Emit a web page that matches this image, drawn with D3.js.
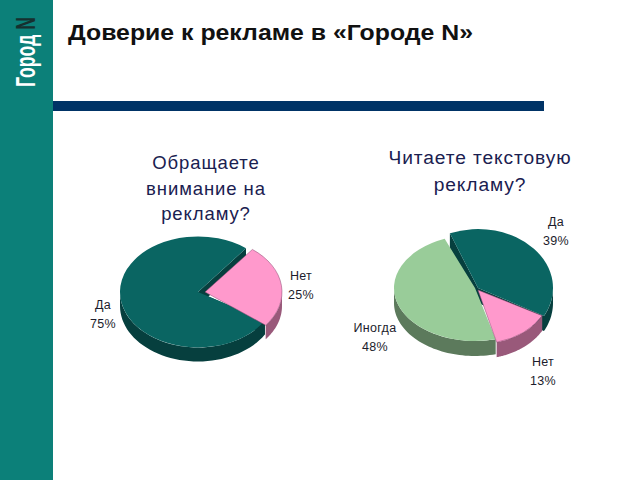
<!DOCTYPE html>
<html><head><meta charset="utf-8">
<script src="https://cdn.jsdelivr.net/npm/d3@7"></script>
<style>html,body{margin:0;padding:0;background:#fff}svg{display:block}text{font-family:"Liberation Sans",Arial,sans-serif}</style>
</head><body><svg id="c" width="640" height="480"></svg>
<script>
const mainTitle = "Доверие к рекламе в «Городе N»";
const brandWord = "Город", brandLetter = "N";
const leftTitle = ["Обращаете","внимание на","рекламу?"];
const leftCats = ["Да","Нет"];
const leftVals = [75,25];
const rightTitle = ["Читаете текстовую","рекламу?"];
const rightCats = ["Да","Нет","Иногда"];
const rightVals = [39,13,48];
const fills = {"Да":"#0a6562","Нет":"#ff99cc","Иногда":"#99cc99"};
const walls = {"Да":"#063f3e","Нет":"#99597a","Иногда":"#5c7a5c"};

const svg = d3.select("#c");
svg.append("rect").attr("x",0).attr("y",0).attr("width",53).attr("height",480).attr("fill","#0c8079");
svg.append("rect").attr("x",53).attr("y",101).attr("width",491).attr("height",10).attr("fill","#003366");
svg.append("text").attr("x",68).attr("y",40).attr("font-size",22.5).attr("font-weight","bold").attr("fill","#111").attr("textLength",405).attr("lengthAdjust","spacingAndGlyphs").text(mainTitle);
const brand = svg.append("text").attr("font-size",28).attr("font-weight","bold");
brand.append("tspan").attr("fill","#fff").text(brandWord+" ");
brand.append("tspan").attr("fill","#16302f").text(brandLetter);
brand.attr("transform",`translate(35,87) rotate(-90) scale(${70/brand.node().getComputedTextLength()},1)`);

function titleLines(lines,cx,y0,dy,size){
  lines.forEach((t,i)=>svg.append("text").attr("x",cx).attr("y",y0+i*dy).attr("text-anchor","middle")
    .attr("font-size",size).attr("fill","#1a2050").attr("letter-spacing",0.9).text(t));
}
function label(cat,val,x,y){
  const g=svg.append("g").attr("font-size",12.5).attr("fill","#1c1c2c").attr("text-anchor","middle").attr("letter-spacing",0.3);
  g.append("text").attr("x",x).attr("y",y).text(cat);
  g.append("text").attr("x",x).attr("y",y+19).text(val+"%");
}
function pie3d(cats,vals,opt){
  const arcs=d3.pie().sort(null).startAngle(opt.start).endAngle(opt.start+2*Math.PI)(vals);
  const line=d3.line();
  opt.order.forEach(i=>{
    const d=arcs[i], cat=cats[i], f=opt.faces[i], r=f.r, k=f.ry/f.r, dp=opt.depth;
    const a0=d.startAngle-(f.padStart||0), a1=d.endAngle;
    const pt=a=>[f.x+r*Math.sin(a), f.y-f.ry*Math.cos(a)];
    const g=svg.append("g"), w=walls[cat];
    if(f.cuts){
      [a0,a1].forEach(a=>{
        const p=pt(a);
        g.append("path").attr("fill",w).attr("d",line([[f.x,f.y],p,[p[0],p[1]+dp],[f.x,f.y+dp]])+"Z");
      });
    }
    const n=80, outer=d3.range(n+1).map(j=>a0+(a1-a0)*j/n)
      .filter(a=>Math.cos(a)<=0.02).map(pt);
    if(outer.length>1){
      const low=outer.map(p=>[p[0],p[1]+dp]).reverse();
      g.append("path").attr("fill",w).attr("d",line(outer.concat(low))+"Z");
    }
    g.append("path")
      .attr("transform",`translate(${f.x},${f.y}) scale(1,${k})`)
      .attr("fill",fills[cat])
      .attr("stroke",cat==="Нет"?"#8a4a70":"none").attr("stroke-width",cat==="Нет"?0.6:0)
      .attr("d",d3.arc().innerRadius(0).outerRadius(r)({startAngle:a0,endAngle:a1}));
  });
}
titleLines(leftTitle,206,169,25.5,18.5);
titleLines(rightTitle,480,164,27,19.2);
pie3d(leftCats,leftVals,{start:128*Math.PI/180,depth:14,order:[0,1],
  faces:[{x:198,y:292,r:78,ry:55.5,cuts:true,padStart:7*Math.PI/180},{x:205,y:292,r:77,ry:54}]});
pie3d(rightCats,rightVals,{start:-22*Math.PI/180,depth:15,order:[0,2,1],
  faces:[{x:478,y:288,r:75,ry:59,cuts:true},{x:478,y:290,r:73,ry:54},{x:475,y:288,r:81,ry:53}]});
label(leftCats[0],leftVals[0],103,309);
label(leftCats[1],leftVals[1],301,280);
label(rightCats[0],rightVals[0],556,226);
label(rightCats[1],rightVals[1],543,366);
label(rightCats[2],rightVals[2],375,332);
</script></body></html>
